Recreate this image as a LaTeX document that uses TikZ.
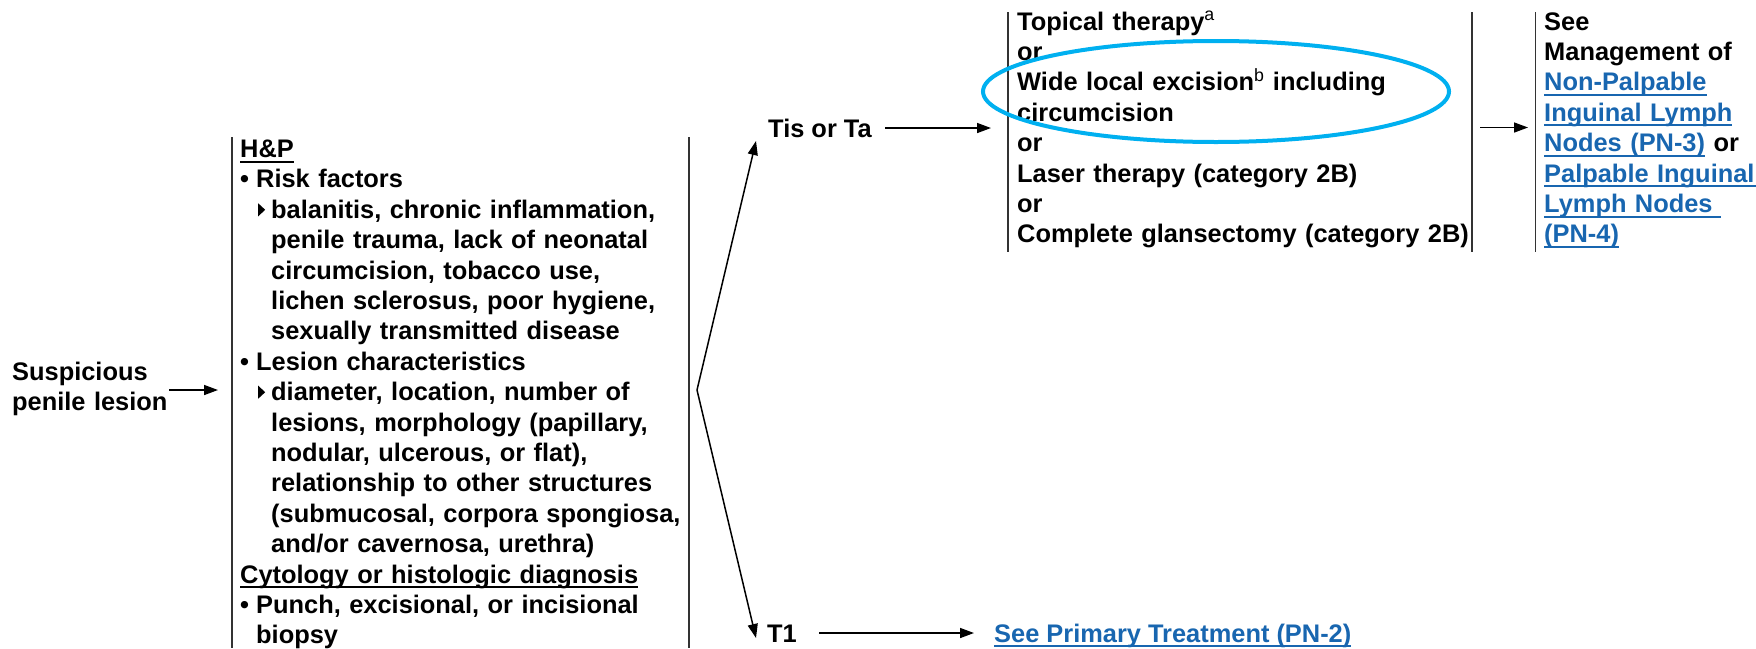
\documentclass[tikz,border=0pt]{standalone}
\usepackage{fontspec}
\setmainfont{Liberation Sans}
\usetikzlibrary{arrows.meta}
\definecolor{linkblue}{RGB}{24,102,176}
\definecolor{ovalblue}{RGB}{0,176,240}
\newsavebox\ulbox
\newcommand\myul[1]{\leavevmode\sbox\ulbox{#1}\rlap{\vrule height -3.2pt depth 5.2pt width \wd\ulbox}\usebox\ulbox}
\newcommand\lnk[1]{{\color{linkblue}\myul{#1}}}
\newcommand\bul{\makebox[16pt][l]{•}}
\newcommand\tri{\tikz[baseline=0pt,x=1pt,y=1pt]\fill[black] (0,2) -- (0,15) -- (7,8.5) -- cycle;}
\newcommand\subbul{\hspace*{18pt}\makebox[13pt][l]{\tri}}
\newcommand\cont{\hspace*{31pt}}
\begin{document}
\begin{tikzpicture}[x=1pt,y=-1pt,
  txt/.style={font=\fontsize{25.4}{30.4}\selectfont\bfseries, inner sep=0pt, anchor=base west, align=left},
  vrule/.style={line width=1.8pt, draw=black!80},
  arr/.style={line width=1.5pt, draw=black, -{Triangle[length=14pt,width=10pt]}},
  oval/.style={draw=ovalblue, line width=4pt}
]
\fill[white] (0,0) rectangle (1756,648);
\useasboundingbox (0,0) rectangle (1756,648);

% text nodes
\node[txt, text width=158] (susp) at (12,380) {Suspicious\\penile lesion};
\node[txt, text width=445] (hp) at (240,157.5) {\myul{H\&P}\\
\bul Risk factors\\
\subbul balanitis, chronic inflammation,\\
\cont penile trauma, lack of neonatal\\
\cont circumcision, tobacco use,\\
\cont lichen sclerosus, poor hygiene,\\
\cont sexually transmitted disease\\
\bul Lesion characteristics\\
\subbul diameter, location, number of\\
\cont lesions, morphology (papillary,\\
\cont nodular, ulcerous, or flat),\\
\cont relationship to other structures\\
\cont (submucosal, corpora spongiosa,\\
\cont and/or cavernosa, urethra)\\
\myul{Cytology or histologic diagnosis}\\
\bul Punch, excisional, or incisional\\
\hspace*{16pt}biopsy};
\node[txt] (tis) at (768,137.5) {Tis or Ta};
\node[txt] (t1) at (767,642) {T1};
\node[txt] (prim) at (994,642) {\lnk{See Primary Treatment (PN-2)}};
\node[txt, text width=452] (opts) at (1017,30) {Topical therapy\textsuperscript{\mdseries a}\\
or\\
Wide local excision\textsuperscript{\mdseries b} including\\
circumcision\\
or\\
Laser therapy (category 2B)\\
or\\
Complete glansectomy (category 2B)};
\node[txt, text width=230] (see) at (1544,30) {See\\
Management of\\
\lnk{Non-Palpable}\\
\lnk{Inguinal Lymph}\\
\lnk{Nodes (PN-3)} or\\
\lnk{Palpable Inguinal\ }\\
\lnk{Lymph Nodes\ }\\
\lnk{(PN-4)}};

% box rules
\coordinate (b1lt) at (232,137); \coordinate (b1lb) at (232,648);
\coordinate (b1rt) at (689,137); \coordinate (b1rb) at (689,648);
\coordinate (b2lt) at (1008,12); \coordinate (b2lb) at (1008,252);
\coordinate (b2rt) at (1472,12); \coordinate (b2rb) at (1472,252);
\coordinate (b3lt) at (1535.5,12); \coordinate (b3lb) at (1535.5,252);
\draw[vrule] (b1lt) -- (b1lb);
\draw[vrule] (b1rt) -- (b1rb);
\draw[vrule] (b2lt) -- (b2lb);
\draw[vrule] (b2rt) -- (b2rb);
\draw[vrule] (b3lt) -- (b3lb);

% connectors
\coordinate (s1) at (169,390); \coordinate (e1) at (218,390);
\coordinate (br) at (697,390);
\coordinate (tisin) at (756,141);
\coordinate (t1in) at (756,638);
\coordinate (s2) at (885,128); \coordinate (e2) at (991,128);
\coordinate (s3) at (1480,127.5); \coordinate (e3) at (1528,127.5);
\coordinate (s4) at (819,633); \coordinate (e4) at (974,633);
\draw[arr] (s1) -- (e1);
\draw[arr] (br) -- (tisin);
\draw[arr] (br) -- (t1in);
\draw[arr] (s2) -- (e2);
\draw[arr] (s3) -- (e3);
\draw[arr] (s4) -- (e4);

% highlight
\draw[oval] (1216,91.5) ellipse [x radius=233, y radius=50.5];
\end{tikzpicture}
\end{document}
